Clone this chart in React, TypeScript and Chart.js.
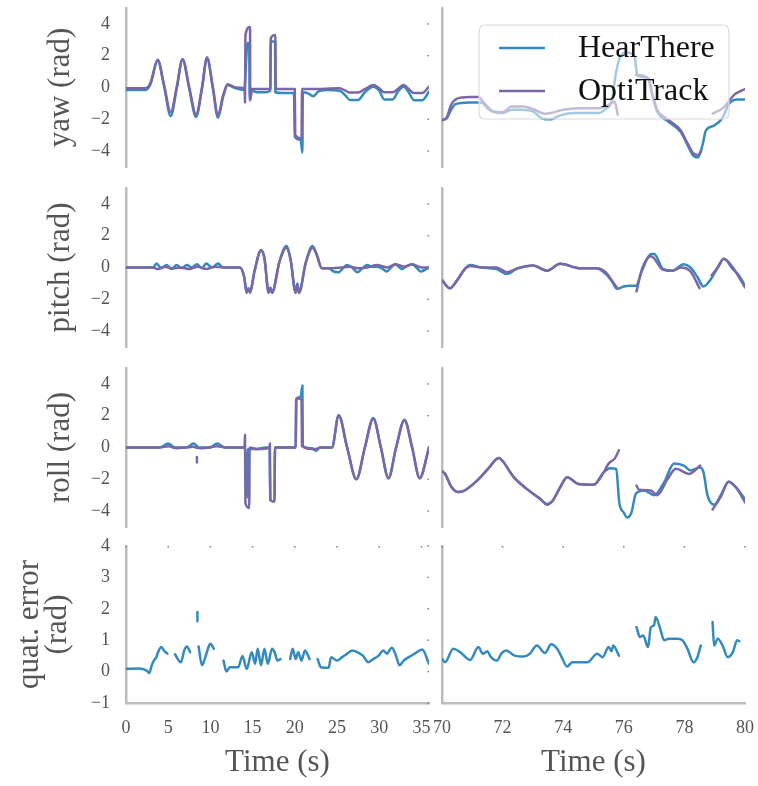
import React, { useEffect, useRef } from 'react';
import { Chart, registerables } from 'chart.js';

Chart.register(...registerables);

type P = [number, number] | null;

// ---------- tick labels / categories ----------
const xTicksLeft = [0, 5, 10, 15, 20, 25, 30, 35];
const xTicksRight = [70, 72, 74, 76, 78, 80];
const angleTicks = [-4, -2, 0, 2, 4];
const errorTicks = [-1, 0, 1, 2, 3, 4];
const seriesNames = ['HearThere', 'OptiTrack'];
const rowTitles: (string | string[])[] = ['yaw (rad)', 'pitch (rad)', 'roll (rad)', ['quat. error', '(rad)']];
const xTitle = 'Time (s)';

// ---------- yaw ----------
const yawHearLeft: P[] = [
  [0, -0.15], [2.3, -0.15], [2.9, 0.2], [3.76, 1.7], [4.5, 0.1], [5.3, -1.8], [6.0, -0.1], [6.7, 1.75], [7.5, -0.1],
  [8.3, -1.85], [9.0, -0.1], [9.6, 1.85], [10.3, -0.1], [10.9, -1.9], [11.5, -0.6], [12.05, 0.15], [13.0, -0.05],
  [14.0, -0.15], [14.4, 2.8], [14.6, 2.8], [14.65, -0.8], [14.9, -0.2], [15.5, -0.3], [16.5, -0.3], [17.1, -0.2],
  [17.15, 2.9], [17.65, 2.9], [17.7, -0.3], [18.5, -0.35], [19.9, -0.35], [20.0, -3.1], [20.7, -3.3], [20.9, -4.1],
  [20.95, -0.3], [21.5, -0.35], [22.2, -0.55], [22.8, -0.25], [24.0, -0.15], [25.3, -0.2], [26.0, -0.5], [26.5, -0.78],
  [27.5, -0.78], [28.3, -0.3], [29.3, 0.05], [30.0, -0.2], [30.6, -0.75], [31.6, -0.75], [32.3, -0.2], [32.9, 0.05],
  [33.5, -0.3], [34.1, -0.8], [35.1, -0.8], [35.9, -0.25],
];
const yawOptiLeft: P[] = [
  [0, -0.05], [2.3, -0.05], [2.9, 0.3], [3.76, 1.75], [4.5, 0.2], [5.3, -1.55], [6.0, 0], [6.7, 1.8], [7.5, 0],
  [8.3, -1.7], [9.0, 0], [9.6, 1.9], [10.3, 0], [10.9, -1.75], [11.5, -0.5], [12.05, 0.2], [13.0, 0], [14.05, -0.05],
  [14.1, -0.95], [14.15, 3.3], [14.7, 3.8], [14.72, -0.8], [14.9, -0.1], [17.1, -0.1], [17.15, 3.1], [17.7, 3.3],
  [17.75, -0.1], [20.0, -0.1], [20.05, -3.0], [20.8, -3.2], [20.85, -0.1], [22.0, -0.1], [25.3, -0.05], [26.0, -0.2],
  [26.5, -0.32], [27.5, -0.32], [28.3, -0.1], [29.3, 0.15], [30.0, -0.05], [30.6, -0.3], [31.6, -0.3], [32.3, -0.05],
  [32.9, 0.15], [33.5, -0.1], [34.1, -0.35], [35.1, -0.35], [35.9, 0.05],
];
const yawHearRight: P[] = [
  [70.0, -2.05], [70.15, -1.95], [70.3, -1.4], [70.45, -1.05], [70.9, -0.95], [71.3, -0.95], [71.5, -1.3], [71.7, -1.55],
  [72.0, -1.6], [72.3, -1.4], [72.6, -1.4], [73.0, -1.5], [73.3, -1.95], [73.6, -2.0], [73.9, -1.75], [74.4, -1.6],
  [75.2, -1.6], [75.4, -1.35], [75.6, -0.85], [75.75, 1.0], [75.9, 2.0], [76.1, 2.2], [76.35, 2.0], [76.45, 0.75],
  [76.8, 0.6], [76.95, -0.5], [77.1, -1.5], [77.44, -2.1], [77.88, -2.8], [78.1, -3.6], [78.3, -4.3], [78.45, -4.4],
  [78.6, -3.6], [78.71, -2.7], [78.98, -2.4], [79.26, -1.9], [79.48, -1.0], [79.76, -0.75], [80.0, -0.75],
];
const yawOptiRight: P[] = [
  [70.0, -2.05], [70.15, -1.9], [70.3, -1.1], [70.5, -0.7], [70.9, -0.6], [71.2, -0.6], [71.4, -1.0], [71.7, -1.5],
  [72.0, -1.55], [72.3, -1.2], [72.7, -1.2], [73.0, -1.35], [73.4, -1.65], [73.6, -1.6], [74.0, -1.4], [74.5, -1.3],
  [75.2, -1.3], [75.5, -1.1], [75.7, -0.9], [75.8, -1.7], null, [76.4, 0.8], [76.8, 0.6], [76.95, -0.5], [77.1, -1.4],
  [77.44, -2.0], [77.88, -2.7], [78.1, -3.5], [78.3, -4.15], [78.45, -4.25], [78.55, -4.0], null, [78.93, -1.65],
  [79.3, -1.25], [79.65, -0.45], [80.0, -0.1],
];

// ---------- pitch ----------
const pitchHearLeft: P[] = [
  [0, 0], [3.2, 0], [3.6, 0.25], [4.2, -0.05], [4.8, 0.15], [5.4, -0.1], [6.0, 0.15], [6.6, -0.05], [7.2, 0.15],
  [7.8, 0.0], [8.4, 0.2], [9.0, -0.05], [9.5, 0.25], [10.2, 0.0], [10.9, 0.25], [11.5, 0.0], [13.5, 0.0], [14.0, -0.6],
  [14.3, -1.55], [14.5, -1.3], [14.7, -1.55], [15.2, -0.3], [16.0, 1.1], [16.4, 0.6], [16.9, -1.55], [17.1, -1.25],
  [17.3, -1.55], [18.2, 0.4], [19.0, 1.35], [19.5, 0.5], [20.1, -1.55], [20.3, -1.0], [20.5, -1.55], [21.3, 0.3],
  [22.1, 1.35], [22.6, 0.8], [23.2, -0.05], [24.0, -0.05], [24.6, -0.25], [25.2, -0.3], [25.7, -0.05], [26.2, 0.15],
  [26.8, 0.0], [27.4, -0.3], [28.0, -0.05], [28.6, 0.15], [29.1, 0.05], [29.7, 0.05], [30.3, -0.05], [30.9, -0.25],
  [31.4, 0.0], [31.9, 0.2], [32.7, -0.1], [33.3, 0.1], [33.9, 0.2], [34.4, 0.0], [34.9, -0.25], [35.9, 0.0],
];
const pitchOptiLeft: P[] = [
  [0, 0], [3.2, 0], [3.8, -0.1], [4.5, 0.05], [5.5, -0.05], [6.5, 0], [7.5, -0.1], [8.5, 0.05], [9.5, -0.1],
  [10.5, 0.05], [11.5, 0.0], [13.5, 0.0], [14.0, -0.6], [14.3, -1.6], [14.5, -1.3], [14.7, -1.6], [15.2, -0.3],
  [16.0, 1.05], [16.4, 0.6], [16.9, -1.6], [17.1, -1.3], [17.3, -1.6], [18.2, 0.4], [19.0, 1.25], [19.5, 0.5],
  [20.1, -1.6], [20.3, -1.1], [20.5, -1.6], [21.3, 0.3], [22.1, 1.25], [22.6, 0.8], [23.2, -0.05], [24.5, -0.05],
  [25.5, 0], [26.5, 0.05], [27.5, -0.05], [28.6, 0.0], [29.7, 0.15], [31.0, 0.0], [31.9, 0.2], [33.0, 0.05],
  [33.9, 0.2], [35.0, 0.0], [35.9, 0.0],
];
const pitchHearRight: P[] = [
  [70.0, -0.8], [70.26, -1.3], [70.5, -0.8], [70.75, -0.1], [70.93, 0.15], [71.3, 0.0], [71.8, -0.1], [72.14, -0.4],
  [72.5, -0.05], [73.0, 0.13], [73.47, -0.2], [73.9, 0.23], [74.57, -0.05], [75.1, -0.05], [75.4, -0.4], [75.6, -0.85],
  [75.78, -1.35], [76.0, -1.2], [76.2, -1.15], [76.4, -1.15], [76.6, -0.2], [76.9, 0.85], [77.0, 0.85], [77.3, -0.1],
  [77.6, -0.2], [77.98, 0.2], [78.2, 0.0], [78.43, -0.6], [78.63, -1.2], [78.85, -0.8], [79.1, 0.0], [79.3, 0.55],
  [79.6, -0.1], [79.8, -0.5], [80.0, -1.15],
];
const pitchOptiRight: P[] = [
  [70.0, -0.8], [70.26, -1.3], [70.5, -0.8], [70.75, -0.1], [70.93, 0.1], [71.3, 0.0], [71.8, 0.0], [72.14, -0.3],
  [72.5, -0.05], [73.0, 0.13], [73.47, -0.2], [73.9, 0.23], [74.57, -0.05], [75.1, -0.05], [75.4, -0.3], [75.6, -0.8],
  [75.78, -1.3], null, [76.42, -1.5], [76.6, -0.1], [76.9, 0.7], [77.3, -0.15], [77.6, -0.2], [77.9, 0.0],
  [78.2, -0.25], [78.5, -1.3], null, [78.9, -0.5], [79.1, 0.0], [79.3, 0.55], [79.6, 0.0], [79.8, -0.6], [80.0, -1.25],
];

// ---------- roll ----------
const rollHearLeft: P[] = [
  [0, 0], [4.0, 0], [5.0, 0.25], [5.8, 0.0], [7.2, 0.0], [8.0, 0.25], [8.7, 0.0], [10.0, 0.0], [10.8, 0.25],
  [11.7, 0.0], [14.1, 0.0], [14.4, -3.15], [14.45, -0.1], [15.5, -0.1], [16.5, 0.0], [17.0, 0.0], [17.1, -3.3],
  [17.6, -3.4], [17.65, 0.0], [20.1, 0.0], [20.2, 3.0], [20.7, 3.2], [20.9, 3.9], [20.95, 0.1], [22.0, -0.05],
  [22.5, -0.2], [23.0, 0.0], [24.4, 0.0], [25.2, 2.05], [26.2, 0.0], [27.3, -2.0], [28.3, 0.0], [29.3, 1.85],
  [30.2, 0.0], [31.1, -1.9], [32.0, 0.0], [33.0, 1.75], [33.9, 0.0], [34.8, -1.9], [35.9, 0.0],
];
const rollOptiLeft: P[] = [
  [0, 0], [4.0, 0], [5.0, 0.08], [6.0, -0.05], [7.0, 0.0], [8.0, 0.05], [8.38, -0.02], null, [8.4, -0.6], [8.41, -0.95],
  null, [8.43, -0.02], [9.0, -0.05], [10.8, 0.08], [11.8, 0.0], [14.05, 0.0], [14.1, 0.8], [14.15, -3.5], [14.6, -3.8],
  [14.65, 0.0], [15.5, -0.1], [17.0, 0.0], [17.05, 0.25], [17.1, -3.3], [17.6, -3.4], [17.65, 0.0], [20.1, 0.0],
  [20.15, 3.1], [20.8, 3.0], [20.85, 0.1], [22.0, -0.1], [22.5, -0.1], [23.0, 0.0], [24.4, 0.0], [25.2, 2.0],
  [26.2, 0.0], [27.3, -2.0], [28.3, 0.0], [29.3, 1.8], [30.2, 0.0], [31.1, -1.95], [32.0, 0.0], [33.0, 1.7],
  [33.9, 0.0], [34.8, -1.95], [35.9, 0.0],
];
const rollHearRight: P[] = [
  [70.0, -1.5], [70.1, -1.65], [70.3, -2.45], [70.53, -2.8], [70.7, -2.75], [71.15, -2.1], [71.52, -1.35],
  [71.87, -0.66], [72.0, -0.85], [72.36, -1.85], [72.8, -2.6], [73.25, -3.25], [73.47, -3.55], [73.65, -3.35],
  [73.9, -2.5], [74.13, -1.87], [74.5, -2.3], [75.0, -2.35], [75.34, -1.55], [75.55, -1.3], [75.75, -1.35],
  [75.85, -3.45], [76.0, -4.1], [76.11, -4.4], [76.25, -4.1], [76.4, -2.9], [76.67, -2.7], [77.0, -3.0],
  [77.33, -2.2], [77.66, -1.0], [78.0, -1.15], [78.2, -1.45], [78.52, -1.25], [78.63, -1.55], [78.76, -3.0],
  [78.98, -3.6], [79.2, -3.0], [79.46, -2.15], [79.7, -2.5], [80.0, -3.25],
];
const rollOptiRight: P[] = [
  [70.0, -1.5], [70.1, -1.65], [70.3, -2.45], [70.53, -2.8], [70.7, -2.75], [71.15, -2.1], [71.52, -1.35],
  [71.87, -0.66], [72.0, -0.85], [72.36, -1.85], [72.8, -2.6], [73.25, -3.25], [73.47, -3.6], [73.65, -3.35],
  [73.9, -2.5], [74.13, -1.87], [74.5, -2.3], [75.0, -2.35], [75.34, -1.55], [75.5, -1.0], [75.7, -0.7],
  [75.84, -0.17], null, [76.42, -2.4], [76.5, -2.65], [76.89, -2.7], [77.1, -3.0], [77.44, -2.0], [77.72, -1.34],
  [78.16, -1.66], [78.52, -1.13], null, [78.93, -3.9], [79.2, -3.1], [79.46, -2.15], [79.7, -2.5], [80.0, -3.45],
];

// ---------- quaternion error ----------
const errorLeft: P[] = [
  [0, 0.09], [1.5, 0.1], [2.45, 0.03], [2.75, -0.05], [3.05, 0.2], [3.3, 0.35], [3.6, 0.46], [3.8, 0.62], [4.2, 0.78],
  [4.5, 0.67], [4.9, 0.57], null,
  [5.8, 0.55], [6.5, 0.3], [6.9, 0.67], [7.2, 0.8], [7.6, 0.62], null,
  [8.46, 1.6], [8.47, 1.9], null,
  [8.6, 0.8], [9.0, 0.2], [9.4, 0.46], [9.8, 0.8], [10.0, 0.89], [10.4, 0.73], null,
  [11.55, 0.35], [11.9, 0.0], [12.3, 0.14], [13.3, 0.14], [13.8, 0.5], [14.3, 0.08], [14.9, 0.62], [15.3, 0.25],
  [15.6, 0.73], [16.0, 0.2], [16.4, 0.73], [16.8, 0.25], [17.3, 0.73], [17.6, 0.62], [17.95, 0.35], [18.3, 0.4], null,
  [19.45, 0.4], [19.75, 0.73], [20.1, 0.4], [20.4, 0.62], [20.8, 0.35], [21.2, 0.67], [21.75, 0.4], null,
  [22.7, 0.4], [23.1, 0.14], [24.0, 0.12], [24.3, 0.46], [25.0, 0.35], [25.6, 0.46], [26.2, 0.57], [26.8, 0.67],
  [27.4, 0.62], [28.1, 0.5], [28.7, 0.3], [29.3, 0.4], [29.9, 0.5], [30.5, 0.67], [30.9, 0.57], [31.5, 0.76],
  [32.0, 0.5], [32.4, 0.2], [32.9, 0.35], [33.5, 0.46], [34.2, 0.57], [35.1, 0.7], [35.9, 0.25],
];
const errorRight: P[] = [
  [70.0, 0.4], [70.1, 0.3], [70.37, 0.73], [70.6, 0.62], [70.93, 0.37], [71.2, 0.78], [71.35, 0.57], [71.5, 0.65],
  [71.6, 0.48], [71.81, 0.35], [71.97, 0.59], [72.12, 0.67], [72.4, 0.51], [72.69, 0.48], [72.9, 0.57], [73.13, 0.83],
  [73.4, 0.59], [73.6, 0.87], [73.8, 0.73], [73.95, 0.46], [74.13, 0.16], [74.3, 0.3], [74.8, 0.3], [75.12, 0.57],
  [75.3, 0.46], [75.5, 0.78], [75.6, 0.65], [75.65, 0.83], [75.84, 0.51], null,
  [76.42, 1.42], [76.53, 1.1], [76.64, 1.15], [76.8, 0.78], [76.89, 1.4], [77.0, 1.48], [77.05, 1.74], [77.2, 1.37],
  [77.33, 1.0], [77.5, 1.05], [77.77, 1.05], [77.93, 1.0], [78.1, 0.73], [78.3, 0.3], [78.43, 0.46], [78.54, 0.83], null,
  [78.93, 1.58], [78.98, 0.83], [79.1, 1.05], [79.26, 0.83], [79.43, 0.46], [79.6, 0.62], [79.74, 1.0], [79.81, 0.97],
];

// ---------- style ----------
const BLUE = '#348ABD';
const PURPLE = '#7A68A6';
const SPINE = '#bcbcbc';
const TEXT = '#555555';
const SERIF = '"Liberation Serif", "Times New Roman", serif';
const PAGE_W = 758;
const PAGE_H = 786;
const OFF = 40;
const CW = PAGE_W + 2 * OFF;
const CH = PAGE_H + 2 * OFF;

const COLS = [
  { l: 126, r: 429, min: 0, max: 35.9, ticks: xTicksLeft },
  { l: 442, r: 745, min: 70, max: 80, ticks: xTicksRight },
];
const ROWS = [
  { t: 8, b: 167 },
  { t: 188, b: 347 },
  { t: 368, b: 527 },
  { t: 546, b: 703 },
];

type PanelDef = { row: number; col: number; hear: P[]; opti?: P[]; legend?: boolean };

const PANELS: PanelDef[] = [
  { row: 0, col: 0, hear: yawHearLeft, opti: yawOptiLeft },
  { row: 0, col: 1, hear: yawHearRight, opti: yawOptiRight, legend: true },
  { row: 1, col: 0, hear: pitchHearLeft, opti: pitchOptiLeft },
  { row: 1, col: 1, hear: pitchHearRight, opti: pitchOptiRight },
  { row: 2, col: 0, hear: rollHearLeft, opti: rollOptiLeft },
  { row: 2, col: 1, hear: rollHearRight, opti: rollOptiRight },
  { row: 3, col: 0, hear: errorLeft },
  { row: 3, col: 1, hear: errorRight },
];

function toXY(arr: P[]) {
  let lastX = 0;
  return arr.map((p) => {
    if (p === null) return { x: lastX, y: null as any };
    lastX = p[0];
    return { x: p[0], y: p[1] };
  });
}

const fmt = (v: number) => (v < 0 ? '\u2212' + Math.abs(v) : String(v));

const tickDots = {
  id: 'tickDots',
  afterDraw(chart: any, _a: any, opts: any) {
    const { ctx, chartArea, scales } = chart;
    ctx.save();
    ctx.fillStyle = '#808080';
    if (opts && opts.right) {
      scales.y.ticks.forEach((t: any) => {
        const y = scales.y.getPixelForValue(t.value);
        ctx.fillRect(chartArea.right - 1.5, y - 0.75, 1.5, 1.5);
      });
    }
    if (opts && opts.top) {
      scales.x.ticks.forEach((t: any) => {
        const x = scales.x.getPixelForValue(t.value);
        ctx.fillRect(x - 0.75, chartArea.top, 1.5, 1.5);
      });
    }
    ctx.restore();
  },
};

const overlayLegend = {
  id: 'overlayLegend',
  afterDatasetsDraw(chart: any, _a: any, opts: any) {
    if (!opts || !opts.items) return;
    const { ctx, chartArea } = chart;
    const w = 250;
    const h = 94;
    const x = chartArea.right - 16 - w;
    const y = chartArea.top + 17;
    const r = 6;
    ctx.save();
    ctx.beginPath();
    ctx.moveTo(x + r, y);
    ctx.lineTo(x + w - r, y);
    ctx.arcTo(x + w, y, x + w, y + r, r);
    ctx.lineTo(x + w, y + h - r);
    ctx.arcTo(x + w, y + h, x + w - r, y + h, r);
    ctx.lineTo(x + r, y + h);
    ctx.arcTo(x, y + h, x, y + h - r, r);
    ctx.lineTo(x, y + r);
    ctx.arcTo(x, y, x + r, y, r);
    ctx.closePath();
    ctx.fillStyle = 'rgba(255,255,255,0.55)';
    ctx.fill();
    ctx.strokeStyle = '#dcdcdc';
    ctx.lineWidth = 1.2;
    ctx.stroke();
    opts.items.forEach((it: any, i: number) => {
      const cy = y + 23 + i * 43;
      ctx.beginPath();
      ctx.strokeStyle = it.color;
      ctx.lineWidth = 2.5;
      ctx.moveTo(x + 20, cy);
      ctx.lineTo(x + 66, cy);
      ctx.stroke();
      ctx.fillStyle = '#111111';
      ctx.font = '32px ' + SERIF;
      ctx.textBaseline = 'middle';
      ctx.textAlign = 'left';
      ctx.fillText(it.text, x + 99, cy + 1);
    });
    ctx.restore();
  },
};

function buildConfig(p: PanelDef): any {
  const col = COLS[p.col];
  const row = ROWS[p.row];
  const bottomRow = p.row === 3;
  const yTicks = bottomRow ? errorTicks : angleTicks;
  const yMin = bottomRow ? -1 : -5;
  const yMax = bottomRow ? 4 : 5;
  const title = rowTitles[p.row];
  const multi = Array.isArray(title);
  const titleLH = multi ? 0.9 : 1.0;
  const titleCenter = multi ? 30 : 61;

  const datasets: any[] = [];
  if (p.opti) {
    datasets.push({
      label: seriesNames[1],
      data: toXY(p.opti),
      borderColor: PURPLE,
      order: 0,
    });
  }
  datasets.push({
    label: seriesNames[0],
    data: toXY(p.hear),
    borderColor: BLUE,
    order: 1,
  });

  const xAxisHeight = CH - (row.b + OFF);

  return {
    type: 'line',
    data: { datasets },
    plugins: [tickDots, overlayLegend],
    options: {
      animation: false,
      responsive: false,
      maintainAspectRatio: false,
      devicePixelRatio: 1,
      parsing: true,
      layout: {
        padding: {
          left: 0,
          top: row.t + OFF,
          right: CW - (col.r + OFF),
          bottom: bottomRow ? 0 : CH - (row.b + OFF),
        },
      },
      elements: {
        point: { radius: 0, hoverRadius: 0 },
        line: {
          borderWidth: 2.5,
          cubicInterpolationMode: 'monotone',
          borderJoinStyle: 'round',
          borderCapStyle: 'round',
          fill: false,
        },
      },
      plugins: {
        legend: { display: false },
        tooltip: { enabled: false },
        tickDots: { right: p.col === 0, top: bottomRow },
        overlayLegend: p.legend
          ? {
              items: [
                { text: seriesNames[0], color: BLUE },
                { text: seriesNames[1], color: PURPLE },
              ],
            }
          : {},
      },
      scales: {
        x: {
          type: 'linear',
          min: col.min,
          max: col.max,
          display: bottomRow,
          afterBuildTicks: (s: any) => {
            s.ticks = col.ticks.map((v) => ({ value: v }));
          },
          afterFit: (s: any) => {
            if (bottomRow) s.height = xAxisHeight;
          },
          grid: { display: false, drawTicks: false },
          border: { display: true, color: SPINE, width: 2.5 },
          ticks: {
            autoSkip: false,
            maxRotation: 0,
            padding: 14,
            color: TEXT,
            font: { family: SERIF, size: 18, lineHeight: 1.2 },
            callback: (v: any) => fmt(Number(v)),
          },
          title: {
            display: bottomRow,
            text: xTitle,
            color: TEXT,
            font: { family: SERIF, size: 31, lineHeight: 1.0 },
            padding: { top: 0, bottom: CH - (763 + OFF) - 15.5 },
          },
        },
        y: {
          type: 'linear',
          min: yMin,
          max: yMax,
          afterBuildTicks: (s: any) => {
            s.ticks = yTicks.map((v) => ({ value: v }));
          },
          afterFit: (s: any) => {
            s.width = col.l + OFF;
          },
          grid: { display: false, drawTicks: false },
          border: { display: true, color: SPINE, width: 2.5 },
          ticks: {
            display: p.col === 0,
            padding: 16,
            color: TEXT,
            font: { family: SERIF, size: 18, lineHeight: 1.2 },
            callback: (v: any) => fmt(Number(v)),
          },
          title: {
            display: p.col === 0,
            text: title,
            color: TEXT,
            font: { family: SERIF, size: 31, lineHeight: titleLH },
            padding: { top: titleCenter + OFF - (31 * titleLH) / 2, bottom: 0 },
          },
        },
      },
    },
  };
}

function Panel({ def }: { def: PanelDef }) {
  const ref = useRef<HTMLCanvasElement>(null);
  useEffect(() => {
    if (!ref.current) return;
    const chart = new Chart(ref.current, buildConfig(def));
    return () => chart.destroy();
  }, [def]);
  return (
    <canvas
      ref={ref}
      width={CW}
      height={CH}
      style={{ position: 'absolute', left: -OFF, top: -OFF, width: CW, height: CH }}
    />
  );
}

export default function App() {
  return (
    <div
      style={{
        position: 'absolute',
        left: 0,
        top: 0,
        width: PAGE_W,
        height: PAGE_H,
        overflow: 'hidden',
        background: '#ffffff',
      }}
    >
      {PANELS.map((d, i) => (
        <Panel key={i} def={d} />
      ))}
    </div>
  );
}
